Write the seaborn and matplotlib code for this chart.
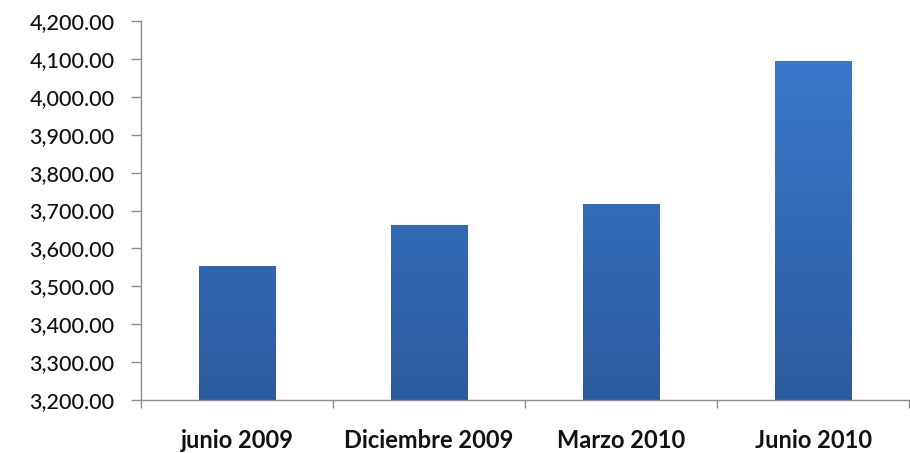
import matplotlib
matplotlib.use("Agg")
import matplotlib.pyplot as plt
import seaborn as sns
import numpy as np
import pandas as pd
from matplotlib.ticker import FuncFormatter, FixedLocator
from matplotlib.colors import LinearSegmentedColormap

categories = ["junio 2009", "Diciembre 2009", "Marzo 2010", "Junio 2010"]
values = [3554, 3663, 3718, 4095]
y_ticks = [3200, 3300, 3400, 3500, 3600, 3700, 3800, 3900, 4000, 4100, 4200]

df = pd.DataFrame({"periodo": categories, "valor": values})

sns.set_theme(style="white")
plt.rcParams['font.family'] = ['Lato', 'DejaVu Sans']

fig = plt.figure(figsize=(9.10, 4.53), dpi=100)
ax = fig.add_axes([0.155, 0.117, 0.844, 0.8366])

sns.barplot(data=df, x="periodo", y="valor", color="#3a75c4", width=0.4, ax=ax)

ax.set_ylim(3200, 4200)
ax.set_xlim(-0.5, 3.5)
ax.yaxis.set_major_locator(FixedLocator(y_ticks))
ax.yaxis.set_major_formatter(FuncFormatter(lambda v, p: f"{v:,.2f}"))

# gradient fill clipped to bars
cmap = LinearSegmentedColormap.from_list("g", ["#2b5c9f", "#3c7bd0"])
grad = np.linspace(0, 1, 256).reshape(-1, 1)
for patch in ax.patches:
    patch.set_edgecolor("none")
    im = ax.imshow(grad, cmap=cmap, aspect="auto", origin="lower",
                   extent=[-0.5, 3.5, 3200, 4200], zorder=patch.get_zorder())
    im.set_clip_path(patch)
ax.set_xlim(-0.5, 3.5)
ax.set_ylim(3200, 4200)

ax.set_xlabel("")
ax.set_ylabel("")
for s in ["top", "right"]:
    ax.spines[s].set_visible(False)
for s in ["left", "bottom"]:
    ax.spines[s].set_color("#8c8c8c")
    ax.spines[s].set_linewidth(1.0)

ax.tick_params(axis="y", which="major", direction="out", length=7, width=1,
               color="#8c8c8c", pad=12, labelsize=15.5, labelcolor="#111111", left=True)
ax.tick_params(axis="x", which="major", length=0, pad=21, labelsize=17, labelcolor="#111111")
for t in ax.get_xticklabels():
    t.set_fontweight("bold")
for t in ax.get_yticklabels():
    t.set_fontweight("medium")
ax.set_xticks([-0.5, 0.5, 1.5, 2.5, 3.5], minor=True)
ax.tick_params(axis="x", which="minor", direction="out", length=6, width=1,
               color="#8c8c8c", bottom=True)

fig.savefig("out.png", dpi=100, facecolor="white")
